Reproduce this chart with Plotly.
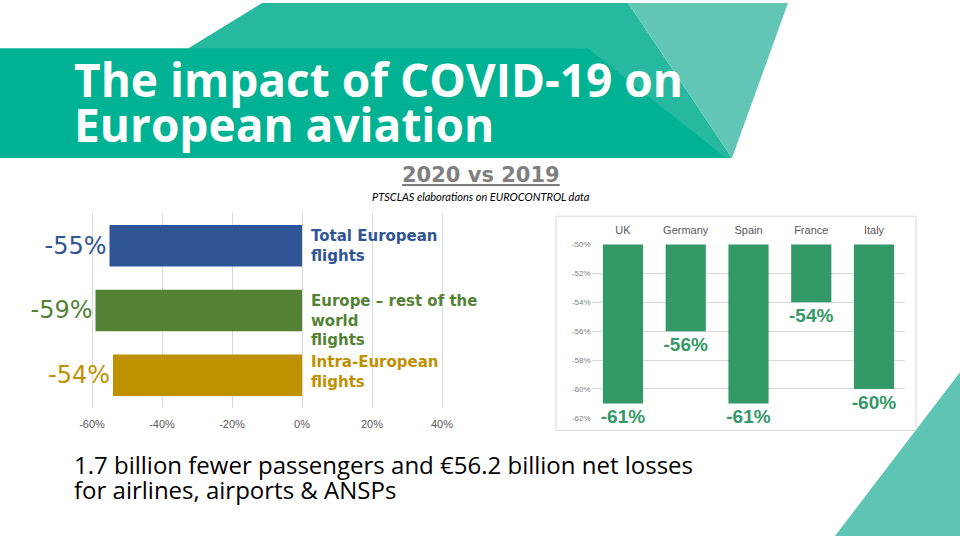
import plotly.graph_objects as go

# ---------------- data ----------------
flight_categories = ["Total European flights", "Europe – rest of the world flights", "Intra-European flights"]
flight_labels = ["Total European<br>flights", "Europe – rest of the<br>world<br>flights", "Intra-European<br>flights"]
flight_change = [-0.55, -0.59, -0.54]
flight_text = ["-55%", "-59%", "-54%"]

left_tickvals = [-0.6, -0.4, -0.2, 0.0, 0.2, 0.4]
left_ticktext = ["-60%", "-40%", "-20%", "0%", "20%", "40%"]

countries = ["UK", "Germany", "Spain", "France", "Italy"]
country_change = [-0.61, -0.56, -0.61, -0.54, -0.60]
country_text = ["-61%", "-56%", "-61%", "-54%", "-60%"]
country_base = -0.50  # bars hang from the top of the axis

right_tickvals = [-0.50, -0.52, -0.54, -0.56, -0.58, -0.60, -0.62]
right_ticktext = ["-50%", "-52%", "-54%", "-56%", "-58%", "-60%", "-62%"]

title_lines = ["The impact of COVID-19 on", "European aviation"]
subtitle = "2020 vs 2019"
source = "PTSCLAS elaborations on EUROCONTROL data"
footer_lines = ["1.7 billion fewer passengers and €56.2 billion net losses",
                "for airlines, airports & ANSPs"]

# ---------------- styles ----------------
flight_colors = ["#2F5597", "#548235", "#BF9000"]
country_color = "#339966"
W, H = 960, 540


def px(x):
    return x / W


def py(y):
    return 1 - y / H


def path(points):
    return "M " + " L ".join(f"{px(a):.5f},{py(b):.5f}" for a, b in points) + " Z"


fig = go.Figure()

fig.add_trace(go.Bar(
    x=flight_change, y=flight_categories, orientation="h",
    marker=dict(color=flight_colors, line=dict(width=0)),
    text=flight_text, textposition="outside",
    textfont=dict(family="DejaVu Sans", size=24, color=flight_colors),
    constraintext="none", cliponaxis=False, hoverinfo="skip",
    xaxis="x", yaxis="y", showlegend=False,
))

fig.add_trace(go.Bar(
    x=countries, y=[v - country_base for v in country_change], base=country_base,
    marker=dict(color=country_color, line=dict(width=0)),
    text=country_text, textposition="outside",
    textfont=dict(family="Liberation Sans", size=19, color=country_color, weight="bold"),
    constraintext="none", cliponaxis=False, hoverinfo="skip",
    xaxis="x2", yaxis="y2", showlegend=False, width=0.64,
))

shapes = [
    dict(type="path", xref="paper", yref="paper", layer="below",
         path=path([(262, 0), (628, 0), (732, 157), (0, 157), (0, 46), (188, 46)]),
         fillcolor="#27B9A0", line=dict(width=0)),
    dict(type="path", xref="paper", yref="paper", layer="below",
         path=path([(0, 46), (588, 46), (726, 157), (0, 157)]),
         fillcolor="#00B294", line=dict(width=0)),
    dict(type="path", xref="paper", yref="paper", layer="below",
         path=path([(628, 0), (788, 0), (732, 157)]),
         fillcolor="#62C6B6", line=dict(width=0)),
    dict(type="path", xref="paper", yref="paper", layer="below",
         path=path([(960, 374), (960, 540), (835, 540)]),
         fillcolor="#5EC4B4", line=dict(width=0)),
    dict(type="rect", xref="paper", yref="paper", layer="below",
         x0=px(556), x1=px(916), y0=py(433), y1=py(216),
         fillcolor="white", line=dict(color="#D9D9D9", width=1)),
]

annotations = []
for i, line in enumerate(title_lines):
    annotations.append(dict(
        xref="paper", yref="paper", x=px(72), y=py([77, 123][i]),
        xanchor="left", yanchor="middle", showarrow=False,
        text=f"<b>{line}</b>",
        font=dict(family="Open Sans", size=46, color="white"),
    ))
annotations.append(dict(
    xref="paper", yref="paper", x=px(481), y=py(174),
    xanchor="center", yanchor="middle", showarrow=False,
    text=f"<b><u>{subtitle}</u></b>",
    font=dict(family="DejaVu Sans", size=21, color="#7F7F7F"),
))
annotations.append(dict(
    xref="paper", yref="paper", x=px(481), y=py(196),
    xanchor="center", yanchor="middle", showarrow=False,
    text=f"<i>{source}</i>",
    font=dict(family="Lato", size=11, color="#000000"),
))
for i, line in enumerate(footer_lines):
    annotations.append(dict(
        xref="paper", yref="paper", x=px(72), y=py([468, 493][i]),
        xanchor="left", yanchor="middle", showarrow=False,
        text=line,
        font=dict(family="Open Sans", size=24, color="#000000"),
    ))
label_shifts = [0, -10, 3]
for i, lab in enumerate(flight_labels):
    annotations.append(dict(
        xref="x", yref="y", x=0, y=flight_categories[i],
        xanchor="left", yanchor="middle", xshift=7, yshift=label_shifts[i],
        align="left", showarrow=False, text=f"<b>{lab}</b>",
        font=dict(family="DejaVu Sans", size=15, color=flight_colors[i]),
    ))

fig.update_layout(
    width=W, height=H, autosize=False,
    margin=dict(l=0, r=0, t=0, b=0),
    paper_bgcolor="white", plot_bgcolor="rgba(0,0,0,0)",
    shapes=shapes, annotations=annotations,
    bargap=0.36,
    xaxis=dict(domain=[px(57), px(477)], range=[-0.7, 0.5],
               tickvals=left_tickvals, ticktext=left_ticktext,
               showgrid=True, gridcolor="#D9D9D9", gridwidth=1, zeroline=False,
               showline=False, ticks="", ticklabelstandoff=8,
               tickfont=dict(family="Liberation Sans", size=11, color="#595959"),
               fixedrange=True),
    yaxis=dict(domain=[py(410), py(213)], categoryorder="array",
               categoryarray=flight_categories, autorange="reversed",
               showticklabels=False, showgrid=False, zeroline=False, showline=False,
               fixedrange=True),
    xaxis2=dict(domain=[px(591.6), px(905.4)], anchor="y2", side="top",
                showgrid=False, zeroline=False, showline=False, ticks="",
                ticklabelstandoff=7,
                tickfont=dict(family="Liberation Sans", size=11, color="#595959"),
                fixedrange=True),
    yaxis2=dict(domain=[py(421), py(244)], anchor="x2", range=[-0.6205, -0.4995],
                tickvals=right_tickvals, ticktext=right_ticktext,
                showgrid=True, gridcolor="#D9D9D9", gridwidth=1, zeroline=False,
                showline=False, ticks="",
                tickfont=dict(family="Liberation Sans", size=8, color="#808080"),
                fixedrange=True),
)

fig.write_html("out.html")
